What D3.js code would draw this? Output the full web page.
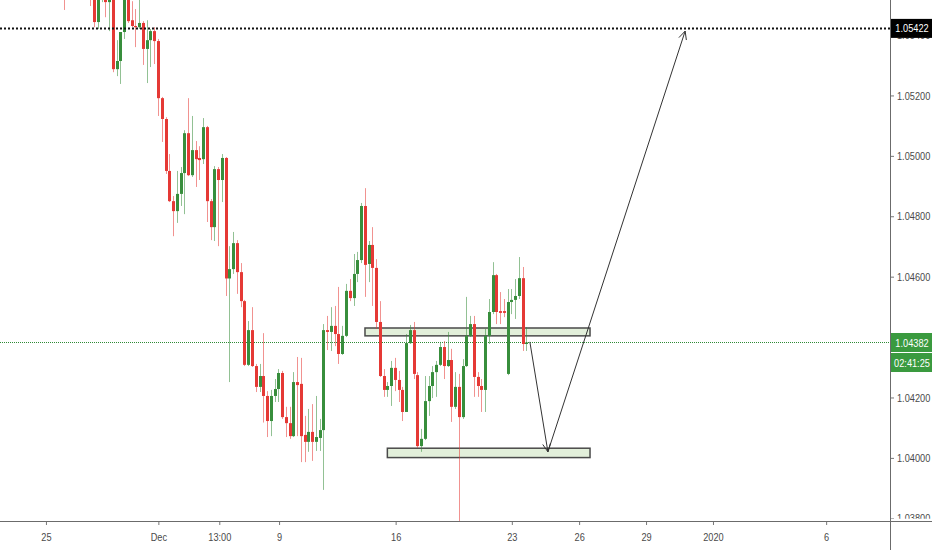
<!DOCTYPE html>
<html><head><meta charset="utf-8">
<script src="https://cdn.jsdelivr.net/npm/d3@7"></script>
<style>
body{margin:0;background:#fff;}
svg{display:block;}
text{font-family:"Liberation Sans",Arial,sans-serif;}
</style>
</head><body>
<svg id="chart" width="932" height="550"></svg>
<script>
// ---- DATA (4H candles, [open, high, low, close]) ----
const ohlc = [
[1.05585,1.05618,1.05483,1.05529],
[1.05540,1.05600,1.05530,1.05580],
[1.05580,1.05640,1.05560,1.05620],
[1.05620,1.05650,1.05570,1.05590],
[1.05590,1.05620,1.05540,1.05560],
[1.05560,1.05610,1.05535,1.05600],
[1.05600,1.05620,1.05540,1.05552],
[1.05552,1.05585,1.05496,1.05516],
[1.05536,1.05552,1.05426,1.05443],
[1.05443,1.05545,1.05420,1.05526],
[1.05536,1.05585,1.05509,1.05569],
[1.05526,1.05545,1.05459,1.05509],
[1.05509,1.05539,1.05413,1.05522],
[1.05522,1.05536,1.05277,1.05287],
[1.05287,1.05383,1.05264,1.05314],
[1.05314,1.05410,1.05238,1.05410],
[1.05410,1.05519,1.05387,1.05516],
[1.05516,1.05529,1.05440,1.05446],
[1.05449,1.05512,1.05426,1.05430],
[1.05430,1.05486,1.05360,1.05426],
[1.05426,1.05519,1.05420,1.05440],
[1.05440,1.05446,1.05301,1.05354],
[1.05354,1.05449,1.05241,1.05383],
[1.05383,1.05420,1.05294,1.05413],
[1.05413,1.05426,1.05304,1.05380],
[1.05380,1.05387,1.05132,1.05191],
[1.05191,1.05195,1.05046,1.05122],
[1.05122,1.05128,1.04940,1.04950],
[1.04950,1.05006,1.04847,1.04850],
[1.04850,1.04867,1.04734,1.04817],
[1.04817,1.04950,1.04778,1.04874],
[1.04874,1.04963,1.04834,1.04943],
[1.04943,1.05085,1.04807,1.05075],
[1.05075,1.05191,1.04933,1.04936],
[1.04936,1.05132,1.04930,1.05019],
[1.05019,1.05049,1.04897,1.04989],
[1.04993,1.05032,1.04920,1.04986],
[1.04989,1.05125,1.04973,1.05095],
[1.05095,1.05099,1.04781,1.04850],
[1.04850,1.04857,1.04721,1.04764],
[1.04764,1.04966,1.04718,1.04956],
[1.04956,1.04963,1.04701,1.04920],
[1.04920,1.05006,1.04847,1.04993],
[1.04993,1.04996,1.04536,1.04594],
[1.04594,1.04701,1.04251,1.04625],
[1.04625,1.04748,1.04609,1.04711],
[1.04711,1.04721,1.04543,1.04615],
[1.04615,1.04645,1.04499,1.04519],
[1.04519,1.04523,1.04304,1.04308],
[1.04308,1.04453,1.04304,1.04423],
[1.04423,1.04499,1.04301,1.04304],
[1.04304,1.04311,1.04218,1.04235],
[1.04235,1.04311,1.04218,1.04271],
[1.04271,1.04413,1.04117,1.04205],
[1.04205,1.04221,1.04069,1.04122],
[1.04122,1.04225,1.04072,1.04205],
[1.04205,1.04261,1.04185,1.04228],
[1.04228,1.04294,1.04185,1.04281],
[1.04281,1.04288,1.04129,1.04135],
[1.04135,1.04169,1.04069,1.04115],
[1.04115,1.04169,1.04063,1.04072],
[1.04072,1.04284,1.04069,1.04251],
[1.04251,1.04334,1.04072,1.04241],
[1.04245,1.04331,1.03986,1.04072],
[1.04076,1.04139,1.03986,1.04053],
[1.04053,1.04162,1.04020,1.04086],
[1.04086,1.04178,1.03990,1.04053],
[1.04053,1.04205,1.04023,1.04069],
[1.04066,1.04129,1.04023,1.04092],
[1.04092,1.04443,1.03894,1.04423],
[1.04423,1.04470,1.04357,1.04417],
[1.04417,1.04499,1.04354,1.04437],
[1.04437,1.04503,1.04370,1.04410],
[1.04410,1.04566,1.04311,1.04344],
[1.04344,1.04437,1.04341,1.04404],
[1.04404,1.04576,1.04400,1.04553],
[1.04553,1.04592,1.04519,1.04529],
[1.04529,1.04675,1.04503,1.04609],
[1.04609,1.04682,1.04582,1.04655],
[1.04655,1.04844,1.04645,1.04834],
[1.04834,1.04893,1.04533,1.04639],
[1.04642,1.04718,1.04582,1.04705],
[1.04705,1.04764,1.04503,1.04629],
[1.04629,1.04658,1.04427,1.04450],
[1.04450,1.04519,1.04268,1.04271],
[1.04271,1.04294,1.04202,1.04225],
[1.04225,1.04251,1.04202,1.04238],
[1.04238,1.04321,1.04172,1.04298],
[1.04298,1.04331,1.04221,1.04258],
[1.04258,1.04288,1.04185,1.04225],
[1.04225,1.04235,1.04122,1.04152],
[1.04152,1.04410,1.04152,1.04380],
[1.04380,1.04440,1.04377,1.04423],
[1.04423,1.04450,1.04261,1.04278],
[1.04274,1.04284,1.04033,1.04039],
[1.04039,1.04096,1.04020,1.04063],
[1.04063,1.04271,1.04059,1.04188],
[1.04188,1.04271,1.04139,1.04238],
[1.04238,1.04304,1.04198,1.04284],
[1.04284,1.04321,1.04202,1.04308],
[1.04308,1.04384,1.04304,1.04367],
[1.04367,1.04387,1.04261,1.04304],
[1.04304,1.04417,1.04301,1.04324],
[1.04324,1.04361,1.04119,1.04169],
[1.04169,1.04284,1.04162,1.04235],
[1.04235,1.04278,1.03732,1.04135],
[1.04135,1.04327,1.04129,1.04304],
[1.04304,1.04533,1.04301,1.04404],
[1.04404,1.04470,1.04400,1.04443],
[1.04443,1.04470,1.04202,1.04268],
[1.04268,1.04284,1.04202,1.04238],
[1.04238,1.04261,1.04152,1.04225],
[1.04225,1.04427,1.04152,1.04404],
[1.04404,1.04526,1.04377,1.04483],
[1.04483,1.04648,1.04476,1.04605],
[1.04605,1.04609,1.04443,1.04483],
[1.04486,1.04549,1.04443,1.04480],
[1.04486,1.04526,1.04466,1.04480],
[1.04278,1.04559,1.04274,1.04516],
[1.04516,1.04559,1.04476,1.04523],
[1.04523,1.04592,1.04460,1.04536],
[1.04536,1.04665,1.04526,1.04595],
[1.04595,1.04632,1.04354,1.04377],
[1.04377,1.04433,1.04354,1.04382]
];
const priceTicks = [1.038,1.040,1.042,1.044,1.046,1.048,1.050,1.052,1.054];
const timeLabels = ["25","Dec","13:00","9","16","23","26","29","2020","6"];
const timeLabelBar = [-4.8,25.1,41.3,57.2,88.2,119.1,137,154.8,172.6,202.7];
const targetLevel = 1.05422;
const lastPrice = 1.04382;
const countdown = "02:41:25";
const zoneBars = [[80.05,139.9],[86.0,139.9]];
const zonePrices = [[1.04430,1.04404],[1.04032,1.04001]];
const arrowBars = [123.9,128.7,165.2];
const arrowPrices = [1.04384,1.04020,1.05413];

// ---- LAYOUT ----
const svg = d3.select("#chart");
const plotR = 890, plotB = 521;
const upCol = "#388e3c", dnCol = "#e53935";
const x = d3.scaleLinear().domain([-17.02, 219.68]).range([0, plotR]);
const y = d3.scaleLinear().domain([1.03791, 1.05516]).range([plotB, 0]);

function condense(sel, k){
  sel.each(function(){
    const w = this.getComputedTextLength();
    d3.select(this).attr("textLength", w*k).attr("lengthAdjust","spacingAndGlyphs");
  });
}

const defs = svg.append("defs");
defs.append("clipPath").attr("id","plot")
  .append("rect").attr("x",0).attr("y",0).attr("width",plotR).attr("height",plotB);
defs.append("clipPath").attr("id","axisclip").attr("clipPathUnits","userSpaceOnUse")
  .append("rect").attr("x",0).attr("y",-20).attr("width",60).attr("height",20);

const plot = svg.append("g").attr("clip-path","url(#plot)");

// zones
zoneBars.forEach((b,k)=>{
  const p = zonePrices[k];
  plot.append("rect")
    .attr("x", x(b[0])).attr("y", y(p[0]))
    .attr("width", x(b[1])-x(b[0])).attr("height", y(p[1])-y(p[0]))
    .attr("fill","#e2efda").attr("stroke","#4a4a4a").attr("stroke-width",1.5);
});

// last price line
plot.append("line").attr("x1",0).attr("x2",plotR)
  .attr("y1",y(lastPrice)).attr("y2",y(lastPrice))
  .attr("stroke","#2e8b35").attr("stroke-width",1).attr("stroke-dasharray","1,1");

// candles
const cg = plot.append("g");
ohlc.forEach((d,i)=>{
  const [o,h,l,c] = d;
  const col = c >= o ? upCol : dnCol;
  const cx = Math.round(x(i)) + 0.5;
  cg.append("line").attr("x1",cx).attr("x2",cx).attr("y1",y(h)).attr("y2",y(l))
    .attr("stroke",col).attr("stroke-width",1).attr("stroke-opacity",0.55);
  const top = y(Math.max(o,c)), bot = y(Math.min(o,c));
  cg.append("rect").attr("x",cx-1.5).attr("width",3)
    .attr("y",top).attr("height",Math.max(1,bot-top)).attr("fill",col);
});

// target dotted line
plot.append("line").attr("x1",0).attr("x2",plotR)
  .attr("y1",y(targetLevel)).attr("y2",y(targetLevel))
  .attr("stroke","#111").attr("stroke-width",2).attr("stroke-dasharray","2,2");

// arrows
function arrow(i0,p0,i1,p1){
  const x0=x(i0),y0=y(p0),x1=x(i1),y1=y(p1);
  plot.append("line").attr("x1",x0).attr("y1",y0).attr("x2",x1).attr("y2",y1)
    .attr("stroke","#333").attr("stroke-width",1);
  const a = Math.atan2(y1-y0,x1-x0), L=9, s=0.45;
  [a+Math.PI-s, a+Math.PI+s].forEach(t=>{
    plot.append("line").attr("x1",x1).attr("y1",y1)
      .attr("x2",x1+L*Math.cos(t)).attr("y2",y1+L*Math.sin(t))
      .attr("stroke","#333").attr("stroke-width",1);
  });
}
for(let k=0;k<arrowBars.length-1;k++) arrow(arrowBars[k],arrowPrices[k],arrowBars[k+1],arrowPrices[k+1]);

// axes
const fmt = d3.format(".5f");
const yAxis = svg.append("g").attr("transform",`translate(${plotR},0)`)
  .call(d3.axisRight(y).tickValues(priceTicks).tickFormat(fmt).tickSize(4).tickPadding(3).tickSizeOuter(0));
yAxis.select(".domain").remove();
yAxis.selectAll("line").attr("stroke","#777");
yAxis.selectAll("text").attr("fill","#4a4a4a").style("font-size","11.5px").call(condense, 0.8);
// lowest label sits on the time axis line and is partly hidden by it
yAxis.selectAll(".tick").filter(d => y(d) > plotB - 6).attr("clip-path","url(#axisclip)");

const xAxis = svg.append("g").attr("transform",`translate(0,${plotB})`)
  .call(d3.axisBottom(x).tickValues(timeLabelBar).tickFormat((d,i)=>timeLabels[i]).tickSize(4).tickPadding(8).tickSizeOuter(0));
xAxis.select(".domain").remove();
xAxis.selectAll("line").attr("stroke","#777");
xAxis.selectAll("text").attr("fill","#4a4a4a").style("font-size","11.5px").call(condense, 0.8);

// frame lines
svg.append("line").attr("x1",0).attr("x2",932).attr("y1",plotB+0.5).attr("y2",plotB+0.5)
  .attr("stroke","#6b6b6b").attr("stroke-width",1);
svg.append("line").attr("x1",plotR+0.5).attr("x2",plotR+0.5).attr("y1",0).attr("y2",550)
  .attr("stroke","#6b6b6b").attr("stroke-width",1);

// price labels
function priceBox(yc, txt, fill){
  svg.append("rect").attr("x",plotR+1).attr("y",yc-9.5).attr("width",932-plotR-1).attr("height",19).attr("fill",fill);
  svg.append("text").attr("x",(plotR+932)/2+1).attr("y",yc).attr("dy","0.35em")
    .attr("text-anchor","middle").attr("fill","#fff").style("font-size","11.5px").text(txt)
    .call(condense, 0.8);
}
priceBox(y(targetLevel), fmt(targetLevel), "#000");
priceBox(y(lastPrice), fmt(lastPrice), "#3a9a3f");
priceBox(y(lastPrice)+20, countdown, "#3a9a3f");
</script>
</body></html>
